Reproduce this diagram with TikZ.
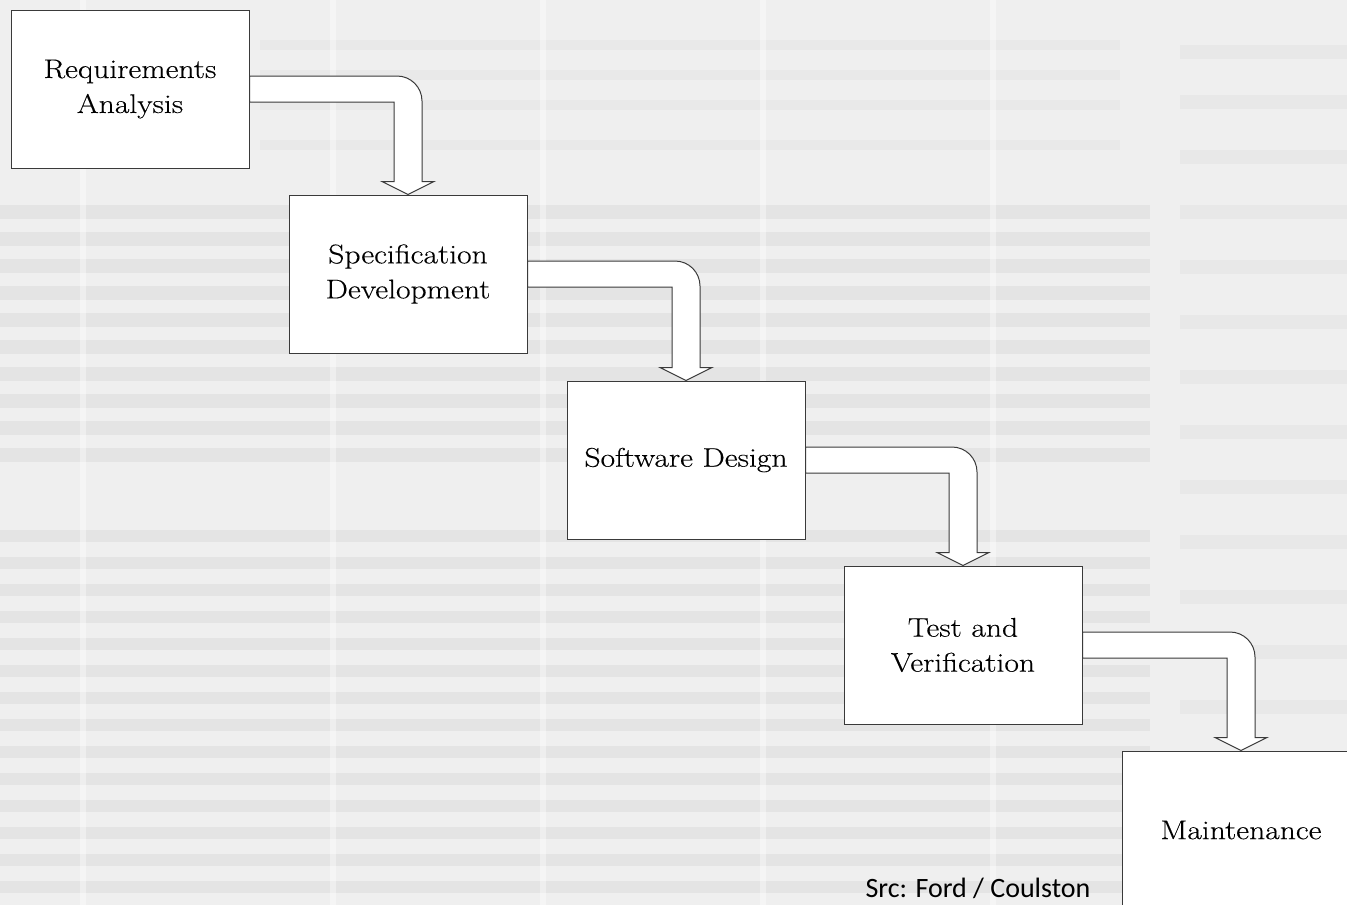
\documentclass[tikz,border=0pt]{standalone}
\usepackage{fontspec}
\newfontfamily\srcfont{Carlito}
\newfontfamily\boxfont{Latin Modern Roman}[FakeStretch=1.17,FakeBold=0.3]
\usetikzlibrary{calc}
\definecolor{bgbase}{HTML}{EFEFEF}
\definecolor{bgband}{HTML}{E4E4E4}
\definecolor{edge}{HTML}{3A3A3A}
\tikzset{
  x=1pt, y=1pt,
  stagebox/.style={draw=edge, line width=1pt, fill=white, minimum width=238pt, minimum height=158pt,
    inner sep=0pt, align=center,
    font=\boxfont\fontsize{27}{35}\selectfont},
  flow/.style={draw=edge, line width=1pt, fill=white, line join=miter},
  band/.style={fill=bgband, draw=none}
}
\newcommand{\bentarrow}[2]{%
  \filldraw[flow] let \p1=(#1.east), \p2=(#2.north) in
    (\x1, \y1+13pt) -- (\x2-11pt, \y1+13pt)
    arc[start angle=90, end angle=0, radius=25pt]
    -- (\x2+14pt, \y2+13pt) -- (\x2+26pt, \y2+13pt) -- (\x2, \y2)
    -- (\x2-26pt, \y2+13pt) -- (\x2-14pt, \y2+13pt) -- (\x2-14pt, \y1-13pt)
    -- (\x1, \y1-13pt) -- cycle;}
\begin{document}
\begin{tikzpicture}
\useasboundingbox (0,0) rectangle (1347,-905);
\clip (0,0) rectangle (1347,-905);
\fill[bgbase] (0,0) rectangle (1347,-905);
% faint blurred-text texture
\foreach \yy in {40,70,100,140} {\fill[band, opacity=0.5] (260,-\yy) rectangle (1120,-\yy-10);}
\foreach \yy in {205,232,259,286,313,340,367,394,421,448} {\fill[band] (0,-\yy) rectangle (1150,-\yy-14);}
\foreach \yy in {530,557,584,611,638,665,692,719,746,773,800,827,854,881} {\fill[band] (0,-\yy) rectangle (1150,-\yy-12);}
\foreach \yy in {45,95,150,205,260,315,370,425,480,535,590,645,700} {\fill[band, opacity=0.6] (1180,-\yy) rectangle (1347,-\yy-14);}
\foreach \xx in {80,330,540,760,990} {\fill[white, opacity=0.4] (\xx,0) rectangle (\xx+6,-905);}
% stages
\node[stagebox] (req) at (130,-89) {Requirements\\Analysis};
\node[stagebox] (spec) at (408,-274) {Specification\\Development};
\node[stagebox] (des) at (686,-460) {Software Design};
\node[stagebox] (test) at (963,-645) {Test and\\Verification};
\node[stagebox] (mnt) at (1241,-830) {Maintenance};
% bent block arrows
\bentarrow{req}{spec}
\bentarrow{spec}{des}
\bentarrow{des}{test}
\bentarrow{test}{mnt}
% source note
\node[anchor=base, inner sep=0pt, font=\srcfont\fontsize{28}{32}\selectfont] (src) at (978,-897) {Src: Ford / Coulston};
\end{tikzpicture}
\end{document}
